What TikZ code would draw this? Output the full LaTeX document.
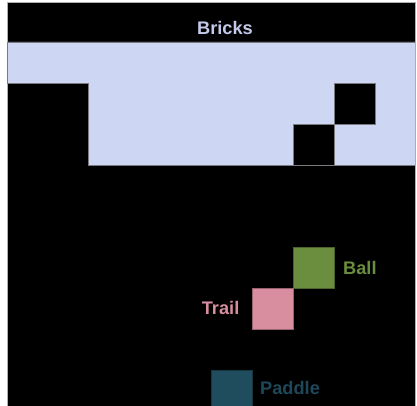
\documentclass[tikz,border=0pt]{standalone}
\usepackage{fontspec}
\setmainfont{Liberation Sans}
\definecolor{brickfill}{HTML}{CDD6F3}
\definecolor{bricktext}{HTML}{C3C9E8}
\definecolor{ballc}{HTML}{6A8E3E}
\definecolor{trailc}{HTML}{D88E9E}
\definecolor{paddlec}{HTML}{1F4D5E}
\definecolor{paddlet}{HTML}{1E4859}
\definecolor{edge}{HTML}{7A7A80}
\tikzset{
  cell/.style={draw=#1!70!black, line width=0.8pt, minimum size=41pt, inner sep=0pt, anchor=north west},
  lbl/.style={font=\fontsize{18.2}{21}\selectfont\bfseries, inner sep=0pt, text=#1}
}
\begin{document}
\begin{tikzpicture}[x=1pt,y=-1pt]
\useasboundingbox (0,0) rectangle (417,406);
\fill[white] (0,0) rectangle (417,406);
\fill[black] (7,3) rectangle (415,406);
\draw[edge!60, line width=0.8pt] (7,406) -- (7,2.5) -- (415.5,2.5) -- (415.5,406);
\begin{scope}
\clip (7,3) rectangle (415,406);
% bricks
\filldraw[fill=brickfill, draw=edge, line width=0.8pt]
  (7,42) -- (415,42) -- (415,165) -- (88,165) -- (88,83) -- (7,83) -- cycle;
\node[cell=black, fill=black, draw=edge] (gap1) at (293,124) {};
\node[cell=black, fill=black, draw=edge] (gap2) at (334,83) {};
\node[lbl=bricktext] (bricks) at (225,27.5) {Bricks};
% ball, trail, paddle
\node[cell=ballc, fill=ballc] (ball) at (293,247) {};
\node[cell=trailc, fill=trailc] (trail) at (252,288) {};
\node[cell=paddlec, fill=paddlec] (paddle) at (211,370) {};
\node[lbl=ballc, anchor=west] (balllbl) at (343,267.5) {Ball};
\node[lbl=trailc, anchor=east] (traillbl) at (239.5,307.5) {Trail};
\node[lbl=paddlet, anchor=west] (paddlelbl) at (260,387.5) {Paddle};
\end{scope}
\end{tikzpicture}
\end{document}
